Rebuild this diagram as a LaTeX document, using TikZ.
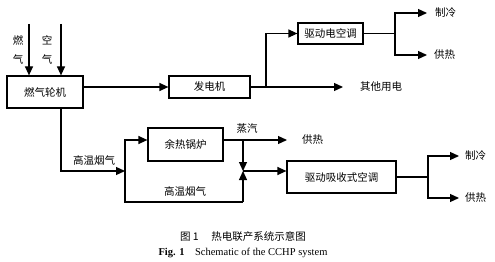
\documentclass[tikz,border=0pt]{standalone}
\usepackage{fontspec}
\setmainfont{Liberation Serif}
\newfontfamily\cjk{Noto Sans CJK SC}
\usetikzlibrary{arrows.meta}
\begin{document}
\begin{tikzpicture}[x=1pt,y=-1pt,
  box/.style={draw, line width=1.2pt, inner sep=0pt, font=\cjk\fontsize{10.5}{12}\selectfont},
  lbl/.style={inner sep=0pt, font=\cjk\fontsize{10.5}{12}\selectfont},
  wire/.style={line width=1.2pt},
  arr/.style={line width=1.2pt, -{Triangle[length=9pt,width=8pt]}}]
\useasboundingbox (0,0) rectangle (495,262);
% boxes
\node[box, minimum width=76pt, minimum height=32pt] (gt) at (45,92) {燃气轮机};
\node[box, minimum width=81pt, minimum height=22pt] (gen) at (209.5,87) {发电机};
\node[box, minimum width=65pt, minimum height=21pt] (eac) at (330.5,33.5) {驱动电空调};
\node[box, minimum width=75pt, minimum height=33pt] (hrsg) at (185.5,144.5) {余热锅炉};
\node[box, minimum width=109pt, minimum height=32pt] (abs) at (341.5,177) {驱动吸收式空调};
% inputs
\coordinate (fuel) at (29,24);
\coordinate (air) at (61,24);
\draw[arr] (fuel) -- (fuel |- gt.north);
\draw[arr] (air) -- (air |- gt.north);
\node[lbl] (t1) at (18,40) {燃};
\node[lbl] (t2) at (18,59) {气};
\node[lbl] (t3) at (47,40) {空};
\node[lbl] (t4) at (47,59) {气};
% turbine -> generator
\draw[arr] (gt.east |- gen.west) -- (gen.west);
% generator outputs
\coordinate (otip) at (343,87);
\draw[arr] (gen.east) -- (otip);
\node[lbl, anchor=west] (other) at (360,87) {其他用电};
\coordinate (b1) at (266,87);
\draw[arr] (b1) |- (eac.west);
\coordinate (s1) at (395,33.5);
\coordinate (c1) at (427,13);
\coordinate (h1) at (427,55);
\draw[wire] (eac.east) -- (s1);
\draw[arr] (s1) |- (c1);
\draw[arr] (s1) |- (h1);
\node[lbl, anchor=west] (c1t) at (435,13) {制冷};
\node[lbl, anchor=west] (h1t) at (434,55) {供热};
% flue gas
\coordinate (j1) at (125,171);
\coordinate (j2) at (243,202);
\coordinate (hin) at (hrsg.west |- 0,140);
\draw[arr] (air |- gt.south) |- (j1);
\draw[arr] (j1) |- (hin);
\draw[wire] (j1) |- (j2);
\node[lbl] (g1) at (94,161) {高温烟气};
\node[lbl] (g2) at (185,192) {高温烟气};
% steam
\coordinate (hout) at (hrsg.east |- 0,140);
\coordinate (stip) at (287,140);
\draw[arr] (hout) -- (stip);
\node[lbl] (st) at (247,129) {蒸汽};
\node[lbl, anchor=west] (h2t) at (302,140) {供热};
\coordinate (m) at (243,140);
\coordinate (mid) at (243,171);
\draw[arr] (m) -- (mid);
\draw[arr] (j2) -- (mid);
\draw[arr] (mid) -- (abs.west |- mid);
% absorption outputs
\coordinate (s2) at (428,177);
\coordinate (c2) at (459,156);
\coordinate (h2) at (459,198);
\draw[wire] (abs.east) -- (s2);
\draw[arr] (s2) |- (c2);
\draw[arr] (s2) |- (h2);
\node[lbl, anchor=west] (c2t) at (465,156) {制冷};
\node[lbl, anchor=west] (h2t2) at (465,198) {供热};
% caption
\node[inner sep=0pt, font=\cjk\fontsize{10.5}{12}\selectfont] (cap1) at (243,237) {图 1\hspace{1.2em}热电联产系统示意图};
\node[inner sep=0pt, font=\fontsize{10.5}{12}\selectfont] (cap2) at (243,253) {\textbf{Fig. 1}\hspace{1em}Schematic of the CCHP system};
\end{tikzpicture}
\end{document}
